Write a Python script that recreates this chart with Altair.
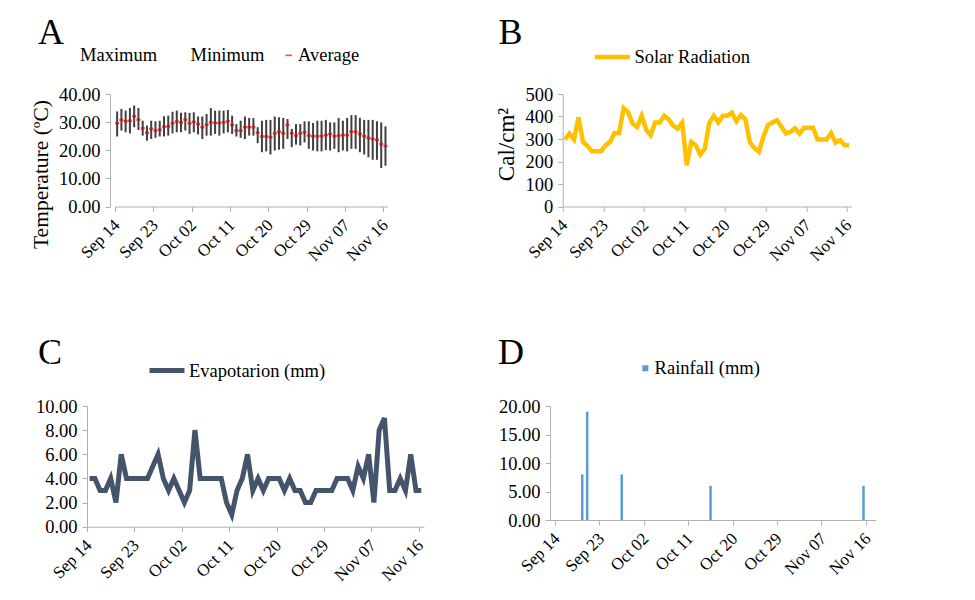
import altair as alt
import pandas as pd

SERIF = "Liberation Serif"
FS = 18.5

# ---------------- data ----------------
start_date = "2015-09-14"
end_date = "2015-11-17"
n_days = 64
tick_dates = ["2015-09-14", "2015-09-23", "2015-10-02", "2015-10-11",
              "2015-10-20", "2015-10-29", "2015-11-07", "2015-11-16"]

t_max = [33.8, 34.7, 34.1, 35.0, 35.9, 35.0, 30.5, 28.8, 30.5, 30.3,
         30.5, 32.1, 32.3, 33.7, 34.1, 33.3, 33.5, 33.3, 33.5, 32.0,
         32.0, 32.9, 35.0, 34.1, 34.1, 34.1, 34.3, 32.3, 29.3, 30.5,
         32.0, 31.5, 31.4, 28.2, 30.5, 30.8, 30.8, 32.0, 31.7, 31.5,
         31.1, 27.6, 29.3, 29.3, 30.3, 30.3, 29.7, 30.5, 30.5, 30.8,
         29.9, 29.9, 31.5, 30.5, 31.5, 32.5, 32.5, 31.5, 30.8, 30.8,
         30.8, 30.3, 29.9, 28.5]
t_min = [24.9, 27.0, 26.4, 26.0, 28.2, 27.2, 25.2, 23.4, 24.0, 24.4,
         24.9, 24.9, 25.2, 26.0, 26.4, 26.4, 27.0, 25.8, 26.4, 25.6,
         24.0, 25.2, 25.2, 25.8, 25.2, 26.0, 26.4, 25.8, 24.9, 24.4,
         24.0, 25.2, 25.2, 22.5, 19.3, 19.6, 18.5, 19.9, 20.2, 20.5,
         24.0, 21.1, 22.0, 21.7, 22.8, 20.5, 19.9, 19.6, 19.6, 20.1,
         19.9, 20.5, 19.3, 19.9, 19.6, 20.5, 20.5, 19.3, 18.5, 17.5,
         16.6, 16.6, 13.7, 14.5]
t_avg = [29.6, 30.8, 30.3, 30.5, 32.1, 30.9, 27.8, 26.2, 27.6, 27.0,
         27.3, 28.4, 28.5, 29.6, 30.2, 29.9, 30.9, 29.6, 30.1, 29.3,
         28.2, 29.1, 29.9, 29.7, 29.7, 29.9, 30.3, 29.0, 27.0, 27.0,
         28.2, 28.2, 28.2, 26.2, 24.9, 24.9, 24.6, 26.0, 26.6, 26.0,
         29.0, 26.0, 25.2, 26.0, 26.4, 25.2, 25.0, 25.0, 25.0, 25.4,
         25.8, 25.0, 25.2, 25.4, 25.4, 26.6, 26.6, 25.8, 25.0, 24.4,
         24.0, 23.7, 22.2, 21.5]
solar = [298, 324, 298, 396, 287, 269, 246, 246, 246, 272,
         287, 327, 327, 436, 418, 369, 354, 403, 342, 317,
         373, 373, 403, 387, 359, 347, 373, 183, 287, 272,
         231, 257, 372, 403, 373, 403, 403, 417, 379, 406,
         388, 284, 260, 243, 310, 362, 373, 384, 354, 324,
         332, 347, 324, 350, 350, 350, 298, 298, 298, 327,
         284, 295, 272, 272]
evap = [4, 4, 3, 3, 4, 2, 6, 4, 4, 4,
        4, 4, 5, 6, 4, 3, 4, 3, 2, 3,
        8, 4, 4, 4, 4, 4, 2, 1, 3, 4,
        6, 3, 4, 3, 4, 4, 4, 3, 4, 3,
        3, 2, 2, 3, 3, 3, 3, 4, 4, 4,
        3, 5, 4, 6, 2, 8, 9, 3, 3, 4,
        3, 6, 3, 3]
rain_dates = ["2015-09-19", "2015-09-20", "2015-09-27", "2015-10-15", "2015-11-15"]
rain_mm = [8, 19, 8, 6, 6]

# ---------------- helpers ----------------
days = pd.date_range(start_date, periods=n_days, freq="D") + pd.Timedelta(hours=12)
day_str = list(days.strftime("%Y-%m-%dT%H:%M:%S"))


def dt(s):
    y, m, d = map(int, s.split("-"))
    return alt.DateTime(year=y, month=m, date=d)


def x_enc(rng=None):
    sc = dict(domain=[dt(start_date), dt(end_date)], nice=False)
    if rng is not None:
        sc["range"] = rng
    return alt.X("date:T", scale=alt.Scale(**sc),
                 axis=alt.Axis(values=[dt(s) for s in tick_dates], format="%b %d",
                               labelAngle=-45, title=None, labelFlush=False,
                               labelOverlap=False, tickSize=5, labelFontSize=17,
                               labelOffset=-4))


def letter(ch, x, y):
    return alt.Chart(pd.DataFrame({"t": [ch]})).mark_text(
        align="left", baseline="alphabetic", font=SERIF, fontSize=36, color="black"
    ).encode(text="t:N", x=alt.value(x), y=alt.value(y))


def spacer(x, y1, y2):
    return alt.Chart(pd.DataFrame({"t": [0]})).mark_rule(color="white", strokeWidth=1).encode(
        x=alt.value(x), y=alt.value(y1), y2=alt.value(y2))


def leg(x, y, **kw):
    return alt.Legend(orient="none", legendX=x, legendY=y, title=None, direction="horizontal",
                      labelFont=SERIF, labelFontSize=FS, labelColor="black", padding=0, **kw)


# ---------------- panel A (column origin = x 110) ----------------
temp_df = pd.DataFrame({"date": day_str, "tmax": t_max, "tmin": t_min, "tavg": t_avg})
yA = dict(scale=alt.Scale(domain=[0, 40]),
          axis=alt.Axis(values=[0, 10, 20, 30, 40], format=".2f", title="Temperature (ºC)",
                        titleY=80, titleFontSize=21.5))
xA = x_enc(rng=[5, 277.6])
bars_A = alt.Chart(temp_df).mark_rule(color="#404040", strokeWidth=2).encode(
    x=xA, y=alt.Y("tmin:Q", **yA), y2="tmax:Q")
avg_A = alt.Chart(temp_df).mark_tick(orient="horizontal", size=4, thickness=2.5).transform_calculate(
    series="'Average'").encode(
    x=xA, y=alt.Y("tavg:Q", **yA),
    color=alt.Color("series:N",
                    scale=alt.Scale(domain=["Maximum", "Minimum", "Average"],
                                    range=["#ffffff", "#ffffff", "#e00000"]),
                    legend=leg(-48.5, -48, symbolType="M-1,-0.25H1V0.25H-1Z", symbolSize=42,
                               symbolStrokeWidth=0, labelOffset=0, columnPadding=14.5)))
panel_A = alt.layer(bars_A, avg_A, letter("A", -72, -50.5), spacer(-96.5, -83, 206.5)).properties(
    width=277.6, height=112.5)

# ---------------- panel B ----------------
solar_df = pd.DataFrame({"date": day_str, "solar": solar, "series": "Solar Radiation"})
line_B = alt.Chart(solar_df).mark_line(strokeWidth=4.5).encode(
    x=x_enc(),
    y=alt.Y("solar:Q", scale=alt.Scale(domain=[0, 500]),
            axis=alt.Axis(values=[0, 100, 200, 300, 400, 500], format="d", title="Cal/cm²",
                          titleY=50, titleFontSize=23)),
    color=alt.Color("series:N", scale=alt.Scale(range=["#ffc000"]),
                    legend=leg(29.7, -57, symbolType="stroke", symbolSize=1225,
                               symbolStrokeWidth=4.5, labelOffset=2)))
panel_B = alt.layer(line_B, letter("B", -64.3, -50.5)).properties(width=288.7, height=112.5)

# ---------------- panel C (plot starts 23px left of the column origin) ----------------
evap_df = pd.DataFrame({"date": day_str, "evap": evap, "series": "Evapotarion (mm)"})
line_C = alt.Chart(evap_df).mark_line(strokeWidth=5).encode(
    x=x_enc(rng=[-23, 313.9]),
    y=alt.Y("evap:Q", scale=alt.Scale(domain=[0, 10]),
            axis=alt.Axis(values=[0, 2, 4, 6, 8, 10], format=".2f", title=None, offset=23)),
    color=alt.Color("series:N", scale=alt.Scale(range=["#44546a"]),
                    legend=leg(37, -55.5, symbolType="stroke", symbolSize=1225,
                               symbolStrokeWidth=5, labelOffset=2)))
panel_C = alt.layer(line_C, letter("C", -72, -42), spacer(-60, -100, 0)).properties(
    width=313.9, height=120.7)

# ---------------- panel D ----------------
rain_df = pd.DataFrame({"date": [d + "T12:00:00" for d in rain_dates], "rain": rain_mm,
                        "series": "Rainfall (mm)"})
bars_D = alt.Chart(rain_df).mark_bar(size=2.5).encode(
    x=x_enc(),
    y=alt.Y("rain:Q", scale=alt.Scale(domain=[0, 20]),
            axis=alt.Axis(values=[0, 5, 10, 15, 20], format=".2f", title=None)),
    color=alt.Color("series:N", scale=alt.Scale(range=["#5b9bd5"]),
                    legend=leg(86, -47, symbolType="square", symbolSize=36,
                               symbolStrokeWidth=0, labelOffset=0)))
panel_D = alt.layer(bars_D, letter("D", -52, -42)).properties(width=325.8, height=114)

row1 = alt.hconcat(panel_A, panel_B, spacing=174.7, bounds="flush").resolve_scale(
    color="independent").resolve_legend(color="independent")
row2 = alt.hconcat(panel_C, panel_D, spacing=126.1, bounds="flush").resolve_scale(
    color="independent").resolve_legend(color="independent")

chart = alt.vconcat(row1, row2, spacing=4).resolve_scale(
    color="independent").resolve_legend(color="independent").properties(
    padding={"left": 5, "top": 2, "right": 5, "bottom": 5}
).configure_view(stroke=None).configure_axis(
    grid=False, domainColor="#b0b0b0", tickColor="#b0b0b0", tickSize=5,
    labelFont=SERIF, labelFontSize=FS, labelColor="black", labelPadding=5,
    titleFont=SERIF, titleFontSize=22, titleFontWeight="normal", titleColor="black",
    titlePadding=6
).configure_legend(labelFont=SERIF)

chart.save("out.html", embed_options={"renderer": "svg", "actions": False})
